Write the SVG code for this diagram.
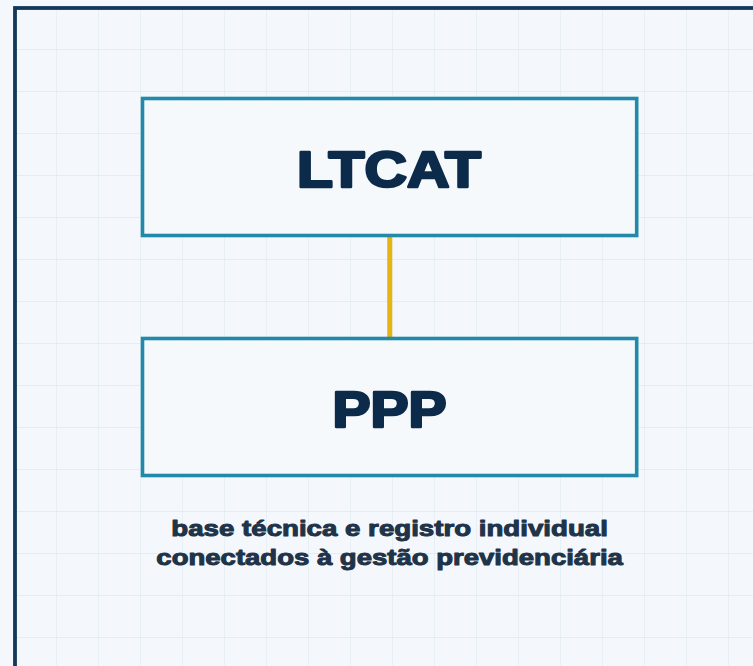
<svg xmlns="http://www.w3.org/2000/svg" width="753" height="666" viewBox="0 0 753 666">
  <defs>
    <pattern id="grid" x="15" y="8" width="42" height="42" patternUnits="userSpaceOnUse">
      <path d="M42 0V42M0 42H42" fill="none" stroke="#e0ebf0" stroke-width="1.3"/>
    </pattern>
    <style>
      .box { fill: #f5f9fc; stroke: #2389a8; stroke-width: 3.6; }
      .title { font-family: "Liberation Sans", Arial, sans-serif; font-weight: bold; font-size: 50px; fill: #0c2a4a; stroke: #0c2a4a; stroke-width: 2.6; stroke-linejoin: round; paint-order: stroke; text-anchor: middle; }
      .caption { font-family: "Liberation Sans", Arial, sans-serif; font-weight: bold; font-size: 22px; fill: #1f3349; stroke: #1f3349; stroke-width: 1; stroke-linejoin: round; paint-order: stroke; text-anchor: middle; }
      .conn { stroke: #e8b412; stroke-width: 5; fill: none; }
    </style>
  </defs>
  <rect width="753" height="666" fill="#f4f8fc"/>
  <rect x="15" y="8" width="760" height="680" fill="url(#grid)"/>
  <rect id="frame" x="15" y="8" width="760" height="680" fill="none" stroke="#12385a" stroke-width="3.8"/>
  <g id="connectors">
    <line class="conn" x1="389.7" y1="237" x2="389.7" y2="337"/>
  </g>
  <g id="node-ltcat">
    <rect class="box" x="142.5" y="98.5" width="494.2" height="137"/>
    <text class="title" x="389" y="187.4" textLength="184" lengthAdjust="spacingAndGlyphs">LTCAT</text>
  </g>
  <g id="node-ppp">
    <rect class="box" x="142.5" y="338.5" width="494.2" height="137"/>
    <text class="title" x="389.5" y="427.4" textLength="114" lengthAdjust="spacingAndGlyphs">PPP</text>
  </g>
  <g id="caption">
    <text class="caption" x="389.6" y="536.2" textLength="436.5" lengthAdjust="spacingAndGlyphs">base técnica e registro individual</text>
    <text class="caption" x="389.6" y="564.7" textLength="466.5" lengthAdjust="spacingAndGlyphs">conectados à gestão previdenciária</text>
  </g>
</svg>
